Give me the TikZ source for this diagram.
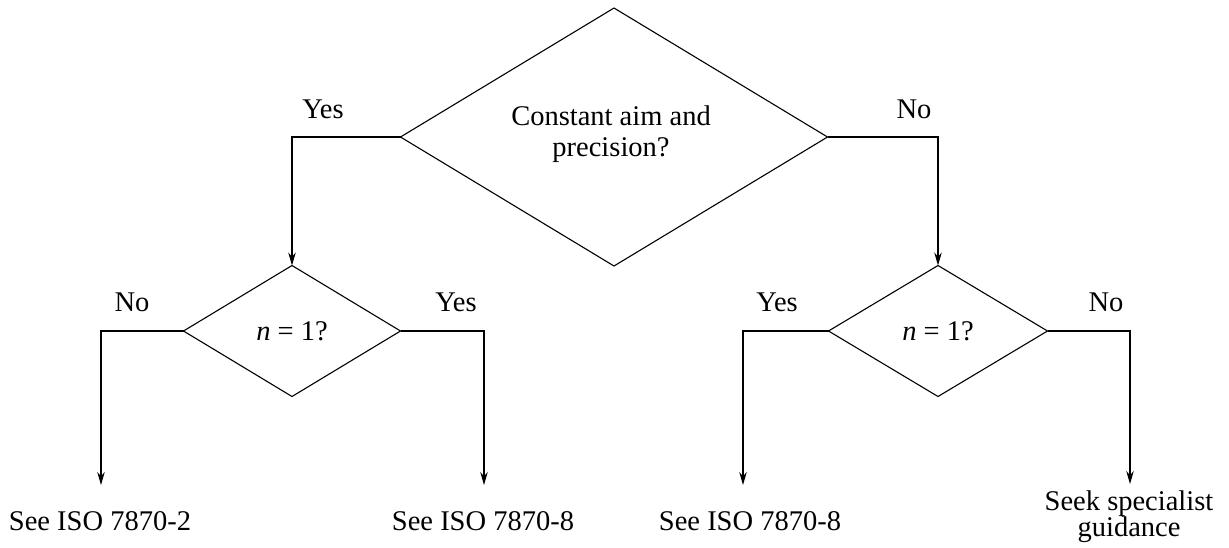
\documentclass[tikz,border=0pt]{standalone}
\usepackage{fontspec}
\setmainfont{Liberation Serif}
\usetikzlibrary{shapes.geometric,arrows.meta}

\tikzset{
  decision/.style={diamond,draw,line width=1.1pt,inner sep=0pt,outer sep=0pt,aspect=1,align=center},
  link/.style={line width=1.1pt,-{Stealth[length=13pt,width=7.5pt]}},
  outcome/.style={anchor=base,align=center,inner sep=0pt}
}

\begin{document}
\begin{tikzpicture}[x=1pt,y=-1pt,font=\fontsize{28.5}{26}\selectfont]
\useasboundingbox (0,0) rectangle (1229,547);

% decisions
\node[decision,minimum width=427pt,minimum height=258pt] (aim) at (614,137) {};
\node[align=center,font=\fontsize{28.5}{31}\selectfont] (aimtext) at (611,134) {Constant aim and\\precision?};
\node[decision,minimum width=217pt,minimum height=131pt] (nleft) at (292,331) {\itshape n\upshape{} = 1?};
\node[decision,minimum width=219pt,minimum height=131pt] (nright) at (938,331) {\itshape n\upshape{} = 1?};

% arrow ends
\coordinate (endA) at (101,485);
\coordinate (endB) at (484,485);
\coordinate (endC) at (743,485);
\coordinate (endD) at (1130,484);

% outcomes
\node[outcome] (isoA) at (100,530) {See ISO 7870-2};
\node[outcome] (isoB) at (483,530) {See ISO 7870-8};
\node[outcome] (isoC) at (750,530) {See ISO 7870-8};
\node[outcome,anchor=north] (seek) at (1129,491) {Seek specialist\\guidance};

% connectors
\draw[link] (aim.west) -| (nleft.north);
\draw[link] (aim.east) -| (nright.north);
\draw[link] (nleft.west) -| (endA);
\draw[link] (nleft.east) -| (endB);
\draw[link] (nright.west) -| (endC);
\draw[link] (nright.east) -| (endD);

% labels
\node[outcome] (yesA) at (323,118) {Yes};
\node[outcome] (noA) at (914,118) {No};
\node[outcome] (noB) at (132,311) {No};
\node[outcome] (yesB) at (456,311) {Yes};
\node[outcome] (yesC) at (777,311) {Yes};
\node[outcome] (noC) at (1106,311) {No};
\end{tikzpicture}
\end{document}
